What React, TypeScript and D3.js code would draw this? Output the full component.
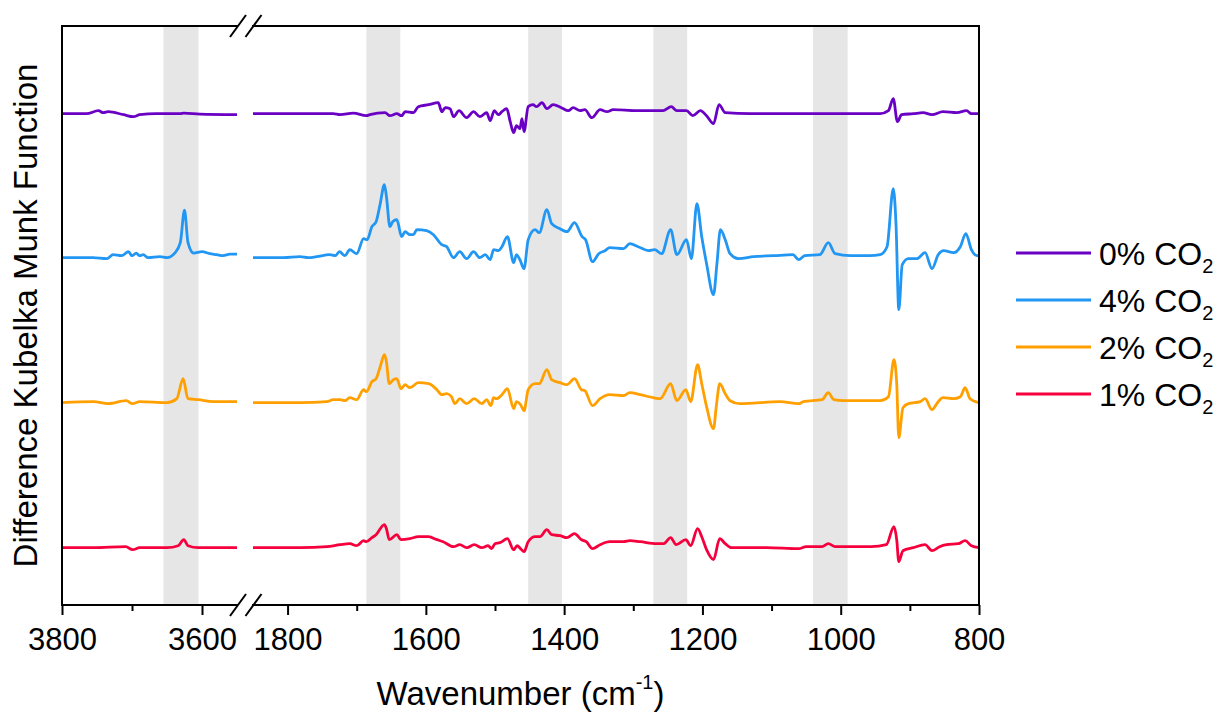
import * as d3 from 'd3';
import React, { useRef, useEffect } from 'react';

// [wavenumber, difference K-M] pairs; left = 3800-3550, right = 1850-800
const purpleLeft = [[3800,0],[3765,0],[3748,0.03],[3741,0.01],[3734,0.02],[3712,-0.01],[3698,-0.03],[3689,-0.01],[3665,0],[3631,0],[3626,0.005],[3603,-0.005],[3550,-0.01]];
const purpleRight = [[1850,0],[1780,0],[1734,0],[1724,-0.01],[1705,0.005],[1686,-0.02],[1681,-0.01],[1659,0.01],[1652,-0.02],[1642,0],[1635,-0.02],[1630,0.02],[1618,0.01],[1611,0.07],[1596,0.09],[1582,0.11],[1577,0.02],[1572,0.06],[1565,0.05],[1560,-0.03],[1552,0.03],[1541,-0.04],[1531,0.02],[1522,-0.03],[1512,0.01],[1507,-0.07],[1501,0.03],[1495,-0.01],[1490,0.02],[1483,0.05],[1478,-0.08],[1473,-0.19],[1469,-0.12],[1464,-0.15],[1461,-0.05],[1458,-0.18],[1452,0.07],[1445,0.09],[1440,0.07],[1432,0.11],[1425,0.05],[1416,0.09],[1404,0.06],[1394,0.03],[1387,0.06],[1377,0.03],[1370,0.04],[1360,-0.04],[1348,0.04],[1338,0.02],[1329,0.04],[1295,0.03],[1257,0.03],[1245,0.07],[1237,0.03],[1223,0.03],[1214,-0.02],[1203,0.03],[1194,-0.02],[1184,-0.1],[1176,0.09],[1167,0.01],[1131,0],[1088,0],[1030,0],[943,0],[931,0.03],[924,0.15],[918,-0.08],[912,-0.01],[895,0],[881,0.01],[868,-0.01],[852,0.02],[832,0.01],[818,0.03],[811,0],[800,0]];

const blueLeft = [[3800,0],[3756,0],[3736,-0.01],[3727,0.03],[3715,0.02],[3705,0.06],[3700,0.02],[3694,0.045],[3689,0.02],[3684,0.03],[3677,0],[3660,0.01],[3650,0],[3639,0.045],[3631,0.15],[3625,0.475],[3620,0.15],[3612,0.045],[3600,0.06],[3589,0.04],[3579,0.03],[3570,0.02],[3560,0.035],[3550,0.035]];
const blueRight = [[1850,0],[1806,0],[1782,0.01],[1770,0],[1758,0.01],[1739,0.03],[1731,0.02],[1725,0.06],[1717,0.02],[1710,0.08],[1700,0.04],[1690,0.19],[1685,0.18],[1678,0.31],[1672,0.36],[1666,0.54],[1660,0.73],[1657,0.61],[1652,0.31],[1648,0.36],[1642,0.38],[1635,0.21],[1630,0.26],[1623,0.23],[1618,0.23],[1613,0.28],[1599,0.27],[1589,0.23],[1577,0.13],[1570,0.11],[1560,0],[1551,0.06],[1541,-0.01],[1531,0.06],[1522,0],[1514,0.03],[1507,-0.02],[1502,0.08],[1495,0.07],[1490,0.11],[1482,0.21],[1473,-0.05],[1469,0.03],[1464,-0.02],[1458,-0.11],[1452,0.18],[1442,0.28],[1436,0.25],[1425,0.48],[1418,0.34],[1406,0.29],[1396,0.26],[1385,0.35],[1374,0.21],[1369,0.18],[1359,-0.04],[1350,0.04],[1341,0.07],[1334,0.1],[1314,0.09],[1305,0.14],[1293,0.11],[1278,0.07],[1269,0.08],[1259,0.04],[1246,0.28],[1237,0.03],[1223,0.18],[1216,-0.01],[1208,0.54],[1201,0.21],[1194,-0.06],[1184,-0.37],[1179,-0.06],[1174,0.28],[1167,0.18],[1160,0.04],[1148,-0.01],[1126,0.01],[1097,0.02],[1069,0.03],[1061,-0.02],[1052,0.02],[1030,0.03],[1018,0.15],[1008,0.04],[986,0.02],[958,0.02],[943,0.03],[933,0.11],[924,0.69],[920,0.33],[916,-0.52],[911,-0.07],[902,-0.01],[890,-0.01],[878,0.05],[868,-0.11],[859,0.03],[851,0.07],[837,0.05],[827,0.11],[819,0.24],[811,0.08],[803,0.02],[800,0.02]];

const orangeLeft = [[3800,0],[3755,0.01],[3734,-0.01],[3708,0.02],[3700,-0.01],[3689,0.01],[3650,0],[3636,0.04],[3627,0.24],[3620,0.04],[3605,0.03],[3584,0.01],[3550,0.01]];
const orangeRight = [[1850,0],[1782,0],[1743,0.01],[1734,0.03],[1724,0.03],[1717,0.02],[1710,0.05],[1700,0.03],[1690,0.13],[1686,0.11],[1678,0.21],[1672,0.24],[1666,0.36],[1660,0.48],[1657,0.41],[1653,0.19],[1647,0.23],[1642,0.24],[1636,0.14],[1630,0.18],[1623,0.15],[1611,0.2],[1596,0.19],[1584,0.13],[1577,0.08],[1570,0.09],[1563,0.06],[1558,-0.01],[1551,0.04],[1541,-0.01],[1530,0.04],[1519,-0.01],[1512,0.03],[1506,-0.03],[1502,0.05],[1498,0.04],[1490,0.08],[1482,0.14],[1473,-0.06],[1469,0.01],[1463,-0.02],[1458,-0.08],[1452,0.13],[1442,0.19],[1436,0.19],[1425,0.33],[1418,0.23],[1406,0.2],[1396,0.18],[1385,0.24],[1375,0.13],[1370,0.12],[1359,-0.03],[1348,0.04],[1334,0.08],[1314,0.07],[1305,0.1],[1290,0.08],[1271,0.05],[1261,0.04],[1246,0.19],[1237,0.02],[1224,0.13],[1217,0.01],[1207,0.38],[1201,0.19],[1194,-0.04],[1184,-0.26],[1180,-0.04],[1175,0.19],[1167,0.09],[1160,0.02],[1146,-0.01],[1088,0.01],[1061,-0.01],[1054,0.01],[1027,0.03],[1018,0.1],[1010,0.03],[996,0.02],[958,0.02],[943,0.02],[931,0.06],[923,0.43],[919,0.19],[916,-0.35],[910,-0.05],[902,-0.01],[885,0.01],[878,0.04],[868,-0.07],[859,0.01],[852,0.05],[837,0.04],[827,0.06],[820,0.15],[813,0.04],[800,0]];

const redLeft = [[3800,0],[3755,0],[3709,0.01],[3699,-0.02],[3689,0],[3650,0],[3634,0.02],[3626,0.08],[3620,0.02],[3605,0],[3550,0]];
const redRight = [[1850,0],[1782,0],[1743,0.01],[1724,0.03],[1710,0.04],[1700,0.02],[1690,0.07],[1686,0.06],[1678,0.1],[1672,0.13],[1660,0.23],[1657,0.19],[1653,0.08],[1642,0.13],[1636,0.08],[1623,0.09],[1611,0.11],[1596,0.11],[1584,0.08],[1575,0.06],[1560,0.01],[1551,0.03],[1541,0],[1530,0.03],[1519,0],[1510,0.02],[1505,-0.01],[1500,0.04],[1493,0.05],[1482,0.09],[1473,-0.02],[1468,0.02],[1463,-0.01],[1458,-0.04],[1452,0.06],[1442,0.11],[1435,0.11],[1425,0.18],[1418,0.13],[1406,0.12],[1396,0.1],[1385,0.14],[1375,0.08],[1368,0.06],[1359,-0.01],[1348,0.03],[1334,0.06],[1314,0.06],[1305,0.07],[1290,0.06],[1266,0.04],[1256,0.04],[1246,0.1],[1238,0.03],[1224,0.08],[1217,0.02],[1207,0.19],[1201,0.11],[1194,-0.02],[1184,-0.12],[1175,0.09],[1167,0.04],[1158,0],[1107,0],[1061,-0.01],[1050,0.01],[1027,0.01],[1018,0.04],[1008,0.01],[956,0.01],[934,0.03],[923,0.21],[919,0.08],[916,-0.14],[910,-0.03],[895,0],[878,0.03],[868,-0.03],[857,0.01],[847,0.03],[830,0.04],[820,0.07],[811,0.02],[800,0]];

const seriesNames = ['0% CO', '4% CO', '2% CO', '1% CO'];
const seriesColors = ['#6a00c4', '#2196f3', '#ffa000', '#f5003d'];
const seriesOffsets = [4.34, 2.9, 1.45, 0];
const seriesData = [
  [purpleLeft, purpleRight],
  [blueLeft, blueRight],
  [orangeLeft, orangeRight],
  [redLeft, redRight],
];

// shaded bands [from, to] in cm-1
const bands = [[3655, 3605], [1686, 1637], [1452, 1403], [1271, 1222], [1040, 990]];

const leftMajor = [3800, 3600];
const leftMinor = [3700];
const rightMajor = [1800, 1600, 1400, 1200, 1000, 800];
const rightMinor = [1700, 1500, 1300, 1100, 900];

const W = 1224;
const H = 715;
const FONT = '"Liberation Sans", Arial, sans-serif';

function SpectraChart() {
  const ref = useRef(null);

  useEffect(() => {
    const svg = d3.select(ref.current);
    svg.selectAll('*').remove();

    const top = 26;
    const bottom = 605;
    const left = 62;
    const right = 979;
    const breakL = 237;
    const breakR = 253;

    const xL = d3.scaleLinear().domain([3800, 3550]).range([left, breakL]);
    const xR = d3.scaleLinear().domain([1850, 800]).range([breakR, right]);
    const y = d3.scaleLinear().domain([-0.573, 5.217]).range([bottom, top]);

    const xFor = (w) => (w > 2500 ? xL : xR);

    // grey bands
    svg
      .append('g')
      .selectAll('rect')
      .data(bands)
      .enter()
      .append('rect')
      .attr('x', (d) => xFor(d[0])(d[0]))
      .attr('width', (d) => xFor(d[0])(d[1]) - xFor(d[0])(d[0]))
      .attr('y', top)
      .attr('height', bottom - top)
      .attr('fill', '#e6e6e6');

    // spectra
    seriesData.forEach((segs, i) => {
      segs.forEach((pts, j) => {
        const sx = j === 0 ? xL : xR;
        const line = d3
          .line()
          .x((d) => sx(d[0]))
          .y((d) => y(d[1] + seriesOffsets[i]))
          .curve(d3.curveMonotoneX);
        svg
          .append('path')
          .datum(pts)
          .attr('d', line)
          .attr('fill', 'none')
          .attr('stroke', seriesColors[i])
          .attr('stroke-width', 2.8)
          .attr('stroke-linejoin', 'round');
      });
    });

    // frame
    const frame = svg.append('g').attr('stroke', '#000').attr('stroke-width', 2).attr('fill', 'none');
    frame.append('line').attr('x1', left).attr('x2', left).attr('y1', top - 1).attr('y2', bottom + 1);
    frame.append('line').attr('x1', right).attr('x2', right).attr('y1', top - 1).attr('y2', bottom + 1);
    [top, bottom].forEach((yy) => {
      frame.append('line').attr('x1', left).attr('x2', breakL + 1).attr('y1', yy).attr('y2', yy);
      frame.append('line').attr('x1', breakR - 1).attr('x2', right).attr('y1', yy).attr('y2', yy);
      [breakL + 1, breakR + 0.5].forEach((cx) => {
        frame
          .append('line')
          .attr('x1', cx - 8)
          .attr('y1', yy + 11)
          .attr('x2', cx + 8)
          .attr('y2', yy - 11);
      });
    });

    // x axes
    const drawAxis = (scale, major, minor) => {
      const gMinor = svg
        .append('g')
        .attr('transform', `translate(0,${bottom})`)
        .call(d3.axisBottom(scale).tickValues(minor).tickSize(6).tickSizeOuter(0).tickFormat(() => ''));
      gMinor.select('.domain').remove();
      gMinor.selectAll('line').attr('stroke', '#000').attr('stroke-width', 2);

      const gMajor = svg
        .append('g')
        .attr('transform', `translate(0,${bottom})`)
        .call(d3.axisBottom(scale).tickValues(major).tickSize(10).tickSizeOuter(0).tickPadding(13).tickFormat(d3.format('d')));
      gMajor.select('.domain').remove();
      gMajor.selectAll('line').attr('stroke', '#000').attr('stroke-width', 2);
      gMajor
        .selectAll('text')
        .attr('fill', '#000')
        .style('font-family', FONT)
        .style('font-size', '31px');
    };
    drawAxis(xL, leftMajor, leftMinor);
    drawAxis(xR, rightMajor, rightMinor);

    // axis titles
    const xt = svg
      .append('text')
      .attr('x', (left + right) / 2)
      .attr('y', 705)
      .attr('text-anchor', 'middle')
      .style('font-family', FONT)
      .style('font-size', '33px')
      .attr('fill', '#000');
    xt.append('tspan').text('Wavenumber (cm');
    xt.append('tspan').attr('dy', -16).style('font-size', '20px').text('-1');
    xt.append('tspan').attr('dy', 16).text(')');

    svg
      .append('text')
      .attr('transform', `translate(37,${(top + bottom) / 2}) rotate(-90)`)
      .attr('text-anchor', 'middle')
      .style('font-family', FONT)
      .style('font-size', '33px')
      .attr('fill', '#000')
      .text('Difference Kubelka Munk Function');

    // legend
    const legend = svg.append('g');
    seriesNames.forEach((name, i) => {
      const ly = 253 + i * 47;
      legend
        .append('line')
        .attr('x1', 1016)
        .attr('x2', 1091)
        .attr('y1', ly)
        .attr('y2', ly)
        .attr('stroke', seriesColors[i])
        .attr('stroke-width', 2.8);
      const t = legend
        .append('text')
        .attr('x', 1099)
        .attr('y', ly + 11.5)
        .style('font-family', FONT)
        .style('font-size', '32px')
        .attr('fill', '#000');
      t.append('tspan').text(name);
      t.append('tspan').attr('dy', 8).style('font-size', '20px').text('2');
    });
  }, []);

  return <svg ref={ref} width={W} height={H} style={{ position: 'absolute', left: 0, top: 0, background: '#fff' }} />;
}

export default function App() {
  return <SpectraChart />;
}
